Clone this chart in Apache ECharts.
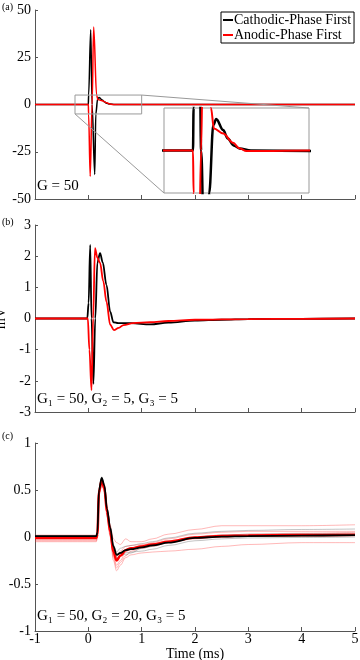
<!DOCTYPE html>
<html>
<head>
<meta charset="utf-8">
<script src="https://cdn.jsdelivr.net/npm/echarts@6/dist/echarts.min.js"></script>
<style>
  html, body { margin: 0; padding: 0; background: #fff; }
  #chart { width: 360px; height: 660px; }
</style>
</head>
<body>
<div id="chart"></div>
<script>
// panel (a), G = 50 : [time (ms), mV]
const cathodicA = [[-1, 0], [0, 0], [0.005, 5], [0.045, 39.5], [0.07, 0], [0.12, -37], [0.14, -5], [0.175, 3], [0.2, 3.7],
  [0.26, 2.4], [0.3, 1.4], [0.35, 0.6], [0.4, 0.25], [0.5, 0], [1, -0.05], [5, 0]];
const anodicA = [[-1, 0], [0, 0], [0.005, -5], [0.035, -38], [0.07, 0], [0.1, 41], [0.155, 5], [0.18, 2.6], [0.26, 2.0],
  [0.345, 0.9], [0.4, 0.26], [0.46, -0.06], [0.6, -0.05], [1, 0], [5, 0]];

// panel (b), G1 = 50, G2 = 5, G3 = 5
const cathodicB = [[-1, 0], [-0.02, 0], [0.005, 0.5], [0.035, 2.36], [0.06, 0], [0.095, -2.1], [0.13, 0], [0.17, 1.8],
  [0.22, 2.1], [0.27, 1.8], [0.34, 1.08], [0.41, 0.22], [0.47, -0.12], [0.56, -0.15], [0.8, -0.15], [1.16, -0.19],
  [1.5, -0.13], [2, -0.07], [2.5, -0.04], [3, -0.02], [4, -0.01], [5, 0]];
const anodicB = [[-1, 0], [-0.01, 0], [0.02, -1.0], [0.06, -2.3], [0.09, 0], [0.125, 2.26], [0.17, 1.95], [0.22, 1.78],
  [0.28, 1.2], [0.34, 0.54], [0.41, -0.2], [0.48, -0.37], [0.57, -0.3], [0.66, -0.21], [0.84, -0.15], [1.16, -0.12],
  [1.5, -0.08], [2, -0.04], [3, -0.02], [4, -0.01], [5, 0]];

// panel (c), G1 = 50, G2 = 20, G3 = 5 : shared time base
const timeC = [-1, 0.15, 0.17, 0.2, 0.25, 0.3, 0.35, 0.41, 0.47, 0.53, 0.6, 0.7, 0.8, 1.0, 1.2, 1.5, 2.0, 2.5, 3.0, 4.0, 5.0];
const cathodicC = [0.01, 0.01, 0.05, 0.5, 0.63, 0.55, 0.3, 0.1, -0.1, -0.19, -0.17, -0.14, -0.13, -0.11, -0.09, -0.06, -0.01, 0.005, 0.01, 0.015, 0.02];
const anodicC = [-0.01, -0.01, 0.03, 0.48, 0.6, 0.52, 0.27, 0.06, -0.16, -0.25, -0.2, -0.14, -0.12, -0.1, -0.08, -0.05, -0.005, 0.01, 0.015, 0.02, 0.025];
const anodicTrialsC = [
  [0.02, 0.02, 0.06, 0.5, 0.62, 0.55, 0.32, 0.12, -0.02, -0.06, -0.08, -0.02, -0.05, -0.05, -0.02, 0.03, 0.08, 0.12, 0.12, 0.12, 0.13],
  [-0.05, -0.05, -0.01, 0.44, 0.57, 0.48, 0.22, 0.0, -0.25, -0.36, -0.3, -0.22, -0.19, -0.17, -0.16, -0.15, -0.13, -0.1, -0.08, -0.06, -0.06],
  [-0.03, -0.03, 0.0, 0.46, 0.59, 0.5, 0.25, 0.03, -0.2, -0.3, -0.25, -0.16, -0.12, -0.09, -0.06, -0.02, 0.03, 0.05, 0.06, 0.06, 0.06],
  [0.0, 0.0, 0.04, 0.49, 0.61, 0.53, 0.28, 0.06, -0.12, -0.21, -0.15, -0.1, -0.09, -0.08, -0.07, -0.04, 0.0, 0.02, 0.03, 0.04, 0.05],
  [-0.04, -0.04, -0.01, 0.45, 0.58, 0.49, 0.24, 0.02, -0.22, -0.33, -0.27, -0.2, -0.15, -0.12, -0.1, -0.06, -0.02, 0.0, 0.01, 0.01, 0.01]
];
const cathodicTrialsC = [
  [0.015, 0.015, 0.05, 0.5, 0.64, 0.56, 0.31, 0.11, -0.08, -0.16, -0.12, -0.1, -0.09, -0.07, -0.05, -0.01, 0.04, 0.06, 0.07, 0.08, 0.085],
  [0.005, 0.005, 0.04, 0.49, 0.62, 0.54, 0.29, 0.08, -0.12, -0.22, -0.2, -0.17, -0.16, -0.15, -0.13, -0.09, -0.04, -0.02, -0.01, -0.005, 0.0],
  [0.01, 0.01, 0.05, 0.5, 0.63, 0.55, 0.3, 0.09, -0.1, -0.2, -0.17, -0.19, -0.17, -0.12, -0.1, -0.05, 0.0, 0.02, 0.03, 0.035, 0.04]
];

const legendNames = ['Cathodic-Phase First', 'Anodic-Phase First'];
const gainLabels = ['G = 50', 'G\u2081 = 50, G\u2082 = 5, G\u2083 = 5', 'G\u2081 = 50, G\u2082 = 20, G\u2083 = 5'];
const panelLetters = ['(a)', '(b)', '(c)'];
const xTicks = { min: -1, max: 5, interval: 1 };
const yTicksA = { min: -50, max: 50, interval: 25 };
const yTicksB = { min: -3, max: 3, interval: 1 };
const yTicksC = { min: -1, max: 1, interval: 0.5 };
const zoomBox = { x: [-0.25, 1], y: [-5, 5] };

const SERIF = "'Liberation Serif', 'DejaVu Serif', serif";
const withTime = (vals) => vals.map((v, i) => [timeC[i], v]);

function xAxisOf (gridIndex, labels) {
  return {
    type: 'value', gridIndex: gridIndex, ...xTicks,
    name: labels ? 'Time (ms)' : '', nameLocation: 'middle', nameGap: 12,
    nameTextStyle: { fontFamily: SERIF, fontSize: 14, color: '#000' },
    axisLine: { show: true, onZero: false, lineStyle: { color: '#555', width: 1 } },
    axisTick: { show: true, inside: true, length: 4, lineStyle: { color: '#555' } },
    axisLabel: { show: labels, margin: 1, fontFamily: SERIF, fontSize: 14, color: '#000' },
    splitLine: { show: false }
  };
}

function yAxisOf (gridIndex, ticks) {
  return {
    type: 'value', gridIndex: gridIndex, ...ticks,
    name: 'mV', nameLocation: 'middle', nameGap: 17, nameRotate: 90,
    nameTextStyle: { fontFamily: SERIF, fontSize: 14, color: '#000' },
    axisLine: { show: true, onZero: false, lineStyle: { color: '#555', width: 1 } },
    axisTick: { show: true, inside: true, length: 3, lineStyle: { color: '#555' } },
    axisLabel: { margin: 4, fontFamily: SERIF, fontSize: 14, color: '#000' },
    splitLine: { show: false }
  };
}

function lineOf (name, idx, data, color, width, opacity, z) {
  return {
    name: name, type: 'line', xAxisIndex: idx, yAxisIndex: idx, data: data,
    symbol: 'none', smooth: 0.35, smoothMonotone: 'x', z: z || 2,
    lineStyle: { color: color, width: width, opacity: opacity == null ? 1 : opacity },
    itemStyle: { color: color },
    emphasis: { disabled: true }
  };
}

const series = [
  // (a)
  lineOf(legendNames[0], 0, cathodicA, '#000', 1.5),
  lineOf(legendNames[1], 0, anodicA, '#ff0000', 1.5),
  // inset of (a)
  lineOf('inset-c', 1, cathodicA, '#000', 2.5, 1, 3),
  lineOf('inset-a', 1, anodicA, '#ff0000', 2, 1, 3),
  // (b)
  lineOf('b-c', 2, cathodicB, '#000', 1.8),
  lineOf('b-a', 2, anodicB, '#ff0000', 1.8)
];
// (c): single trials faint, means on top
anodicTrialsC.forEach((t, i) => series.push(lineOf('c-at' + i, 3, withTime(t), '#ff3333', 1, 0.35)));
cathodicTrialsC.forEach((t, i) => series.push(lineOf('c-ct' + i, 3, withTime(t), '#555', 1, 0.35)));
series.push(lineOf('c-a', 3, withTime(anodicC), '#ff0000', 2.5));
series.push(lineOf('c-c', 3, withTime(cathodicC), '#000', 1.8));

const noBounds = { outerBoundsMode: 'none', containLabel: false };
const option = {
  backgroundColor: '#fff',
  animation: false,
  grid: [
    { left: 35, top: 10, width: 320, height: 189, ...noBounds },
    { left: 164, top: 108, width: 145, height: 85, show: true, backgroundColor: '#fff', borderColor: '#999', borderWidth: 1, z: 3, ...noBounds },
    { left: 35, top: 225, width: 320, height: 187, ...noBounds },
    { left: 35, top: 443, width: 320, height: 188, ...noBounds }
  ],
  xAxis: [
    xAxisOf(0, false),
    { type: 'value', gridIndex: 1, min: zoomBox.x[0], max: zoomBox.x[1], show: false },
    xAxisOf(2, false),
    xAxisOf(3, true)
  ],
  yAxis: [
    yAxisOf(0, yTicksA),
    { type: 'value', gridIndex: 1, min: zoomBox.y[0], max: zoomBox.y[1], show: false },
    yAxisOf(2, yTicksB),
    yAxisOf(3, yTicksC)
  ],
  legend: {
    data: legendNames, orient: 'vertical', left: 221, top: 12,
    icon: 'rect', itemWidth: 10, itemHeight: 2, itemGap: 1,
    padding: [1, 3, 1, 2], borderColor: '#000', borderWidth: 1, backgroundColor: '#fff',
    textStyle: { fontFamily: SERIF, fontSize: 14, color: '#000', padding: [0, 0, 0, -4] },
    selectedMode: false
  },
  series: series
};

const chart = echarts.init(document.getElementById('chart'));
chart.setOption(option);

// zoom box, connector lines and texts
const p = (g, v) => chart.convertToPixel({ gridIndex: g }, v);
const boxTL = p(0, [zoomBox.x[0], zoomBox.y[1]]);
const boxBR = p(0, [zoomBox.x[1], zoomBox.y[0]]);
const insTR = p(1, [zoomBox.x[1], zoomBox.y[1]]);
const insBL = p(1, [zoomBox.x[0], zoomBox.y[0]]);
const grey = { stroke: '#999', lineWidth: 1, fill: null };

const graphic = [
  { type: 'rect', shape: { x: boxTL[0], y: boxTL[1], width: boxBR[0] - boxTL[0], height: boxBR[1] - boxTL[1] }, style: grey, z: 10 },
  { type: 'line', shape: { x1: boxBR[0], y1: boxTL[1], x2: insTR[0], y2: insTR[1] }, style: grey, z: 10 },
  { type: 'line', shape: { x1: boxTL[0], y1: boxBR[1], x2: insBL[0], y2: insBL[1] }, style: grey, z: 10 }
];
[8, 223, 437].forEach((y, i) => graphic.push({
  type: 'text', left: 2, top: y - 6, z: 10,
  style: { text: panelLetters[i], font: '10px ' + SERIF, fill: '#000' }
}));
[188, 401, 618].forEach((y, i) => graphic.push({
  type: 'text', left: 37, top: y - 9, z: 10,
  style: { text: gainLabels[i], font: '15px ' + SERIF, fill: '#000' }
}));
chart.setOption({ graphic: graphic });
</script>
</body>
</html>
